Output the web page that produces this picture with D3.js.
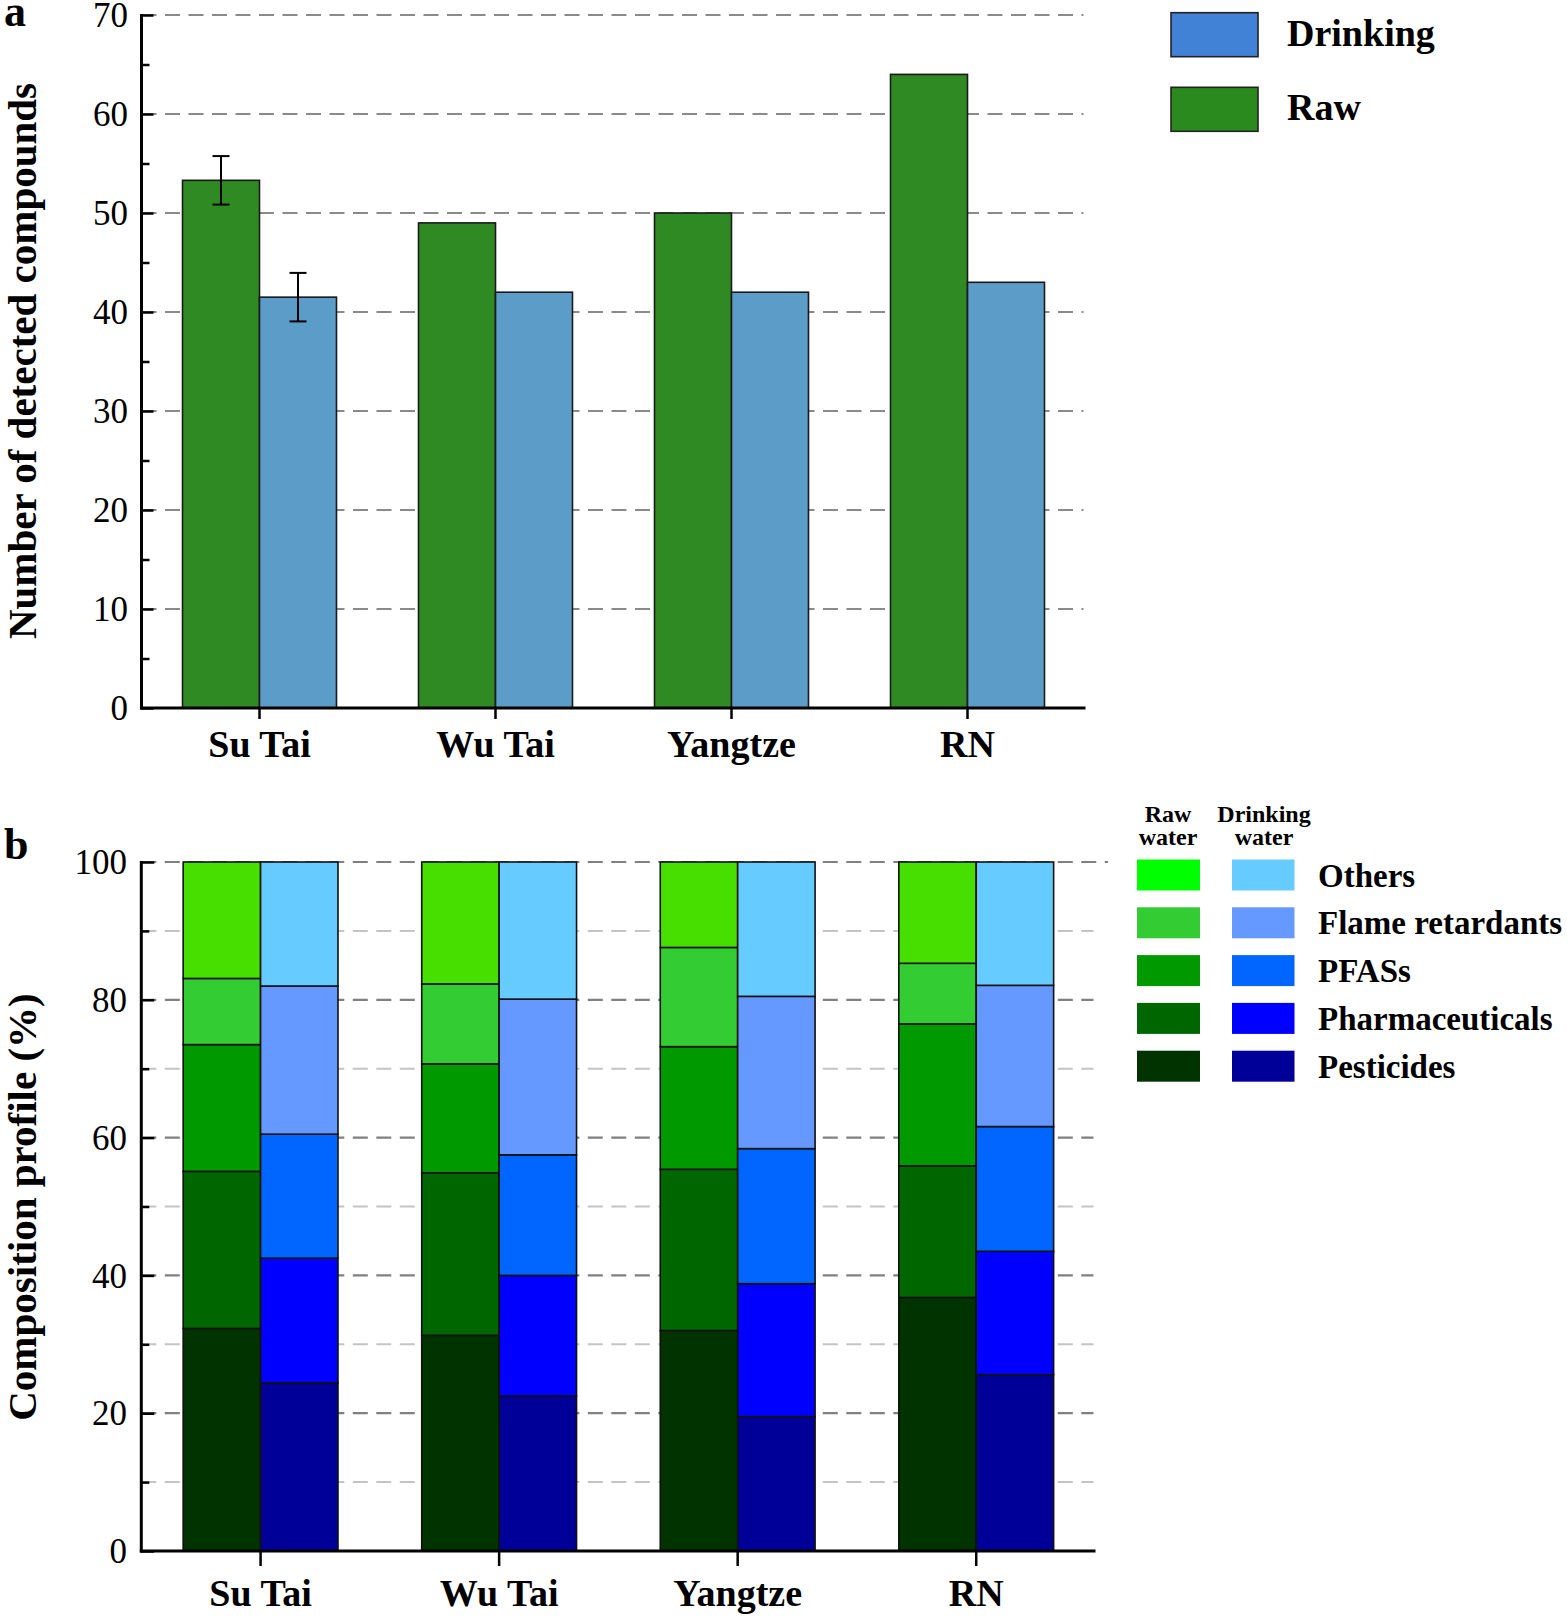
<!DOCTYPE html>
<html>
<head>
<meta charset="utf-8">
<script src="https://cdn.jsdelivr.net/npm/d3@7"></script>
<style>
  html, body { margin: 0; padding: 0; background: #fff; }
  svg { display: block; font-family: "Liberation Serif", "Times New Roman", serif; }
</style>
</head>
<body>
<svg id="chart" width="1567" height="1618"></svg>
<script>
// ---------- DATA ----------
const categories = ["Su Tai", "Wu Tai", "Yangtze", "RN"];

// Panel a: number of detected compounds
const rawCounts = [53.3, 49, 50, 64];
const drinkingCounts = [41.5, 42, 42, 43];
const rawErrors = [2.45, 0, 0, 0];
const drinkingErrors = [2.45, 0, 0, 0];
const countTicks = [0, 10, 20, 30, 40, 50, 60, 70];

// Panel b: composition profile (%), bottom to top
const compoundClasses = ["Pesticides", "Pharmaceuticals", "PFASs", "Flame retardants", "Others"];
const rawProfile = [
  [32.3, 22.8, 18.4, 9.6, 16.9],
  [31.3, 23.6, 15.8, 11.6, 17.7],
  [32.0, 23.4, 17.8, 14.4, 12.4],
  [36.8, 19.1, 20.6, 8.8, 14.7]
];
const drinkingProfile = [
  [24.4, 18.1, 18.0, 21.5, 18.0],
  [22.5, 17.5, 17.5, 22.6, 19.9],
  [19.5, 19.3, 19.6, 22.1, 19.5],
  [25.6, 17.9, 18.1, 20.5, 17.9]
];
const profileTicks = [0, 20, 40, 60, 80, 100];

// ---------- STYLE ----------
const rawColorA = "#2F8A23", drinkColorA = "#5B9CC8";
const legendDrinkA = "#4282D6", legendRawA = "#2A8A1E";
const rawColors = ["#003300", "#006600", "#009900", "#33CC33", "#47DF00"];
const rawLegendColors = ["#003300", "#006600", "#009900", "#33CC33", "#00FF00"];
const drinkColors = ["#000099", "#0000FF", "#0066FF", "#6699FF", "#66CCFF"];

const svg = d3.select("#chart");

// ================= PANEL A =================
const ax0 = 141.5, ax1 = 1085.5, ayTop = 15, ayBot = 708;
const xA = d3.scaleBand().domain(categories).range([ax0, ax1]).paddingInner(0.3475).paddingOuter(0.3475 / 2);
const subA = d3.scaleBand().domain(["Raw", "Drinking"]).range([0, xA.bandwidth()]);
const yA = d3.scaleLinear().domain([0, 70]).range([ayBot, ayTop]);

const gA = svg.append("g");
// gridlines
gA.append("g").selectAll("line").data(countTicks.filter(d => d > 0)).join("line")
  .attr("x1", ax0).attr("x2", ax1 - 2)
  .attr("y1", d => yA(d)).attr("y2", d => yA(d))
  .attr("stroke", "#8a8a8a").attr("stroke-width", 2.2).attr("stroke-dasharray", "15,8.5");

const rowsA = categories.map((c, i) => ({cat: c, i}));
// bars
const barsA = gA.append("g");
barsA.selectAll("rect.raw").data(rowsA).join("rect").attr("class", "raw")
  .attr("x", d => xA(d.cat) + subA("Raw")).attr("width", subA.bandwidth())
  .attr("y", d => yA(rawCounts[d.i])).attr("height", d => yA(0) - yA(rawCounts[d.i]))
  .attr("fill", rawColorA).attr("stroke", "#1a1a1a").attr("stroke-width", 1.6);
barsA.selectAll("rect.drk").data(rowsA).join("rect").attr("class", "drk")
  .attr("x", d => xA(d.cat) + subA("Drinking")).attr("width", subA.bandwidth())
  .attr("y", d => yA(drinkingCounts[d.i])).attr("height", d => yA(0) - yA(drinkingCounts[d.i]))
  .attr("fill", drinkColorA).attr("stroke", "#1a1a1a").attr("stroke-width", 1.6);

// error bars
function errBar(g, cx, v, e) {
  if (!e) return;
  const cap = 8.5;
  g.append("line").attr("x1", cx).attr("x2", cx).attr("y1", yA(v + e)).attr("y2", yA(v - e));
  g.append("line").attr("x1", cx - cap).attr("x2", cx + cap).attr("y1", yA(v + e)).attr("y2", yA(v + e));
  g.append("line").attr("x1", cx - cap).attr("x2", cx + cap).attr("y1", yA(v - e)).attr("y2", yA(v - e));
}
const errG = gA.append("g").attr("stroke", "#000").attr("stroke-width", 2);
rowsA.forEach(d => {
  errBar(errG, xA(d.cat) + subA("Raw") + subA.bandwidth() / 2, rawCounts[d.i], rawErrors[d.i]);
  errBar(errG, xA(d.cat) + subA("Drinking") + subA.bandwidth() / 2, drinkingCounts[d.i], drinkingErrors[d.i]);
});

// y axis (ticks inward)
const yAxisA = gA.append("g").attr("transform", `translate(${ax0},0)`)
  .call(d3.axisRight(yA).tickValues(d3.range(0, 71, 5)).tickSize(0).tickFormat(""));
yAxisA.select(".domain").remove();
yAxisA.selectAll(".tick line").attr("x2", d => d % 10 === 0 ? 12 : 8).attr("stroke", "#000").attr("stroke-width", 2.5);
gA.append("line").attr("x1", ax0).attr("x2", ax0).attr("y1", ayTop - 1).attr("y2", ayBot + 1.5).attr("stroke", "#000").attr("stroke-width", 3);
gA.append("g").selectAll("text").data(countTicks).join("text")
  .attr("x", 128).attr("y", d => yA(d)).attr("dy", "0.35em").attr("text-anchor", "end")
  .attr("font-size", 35).attr("fill", "#000").text(d => d);

// x axis
const xAxisA = gA.append("g").attr("transform", `translate(0,${ayBot})`)
  .call(d3.axisBottom(xA).tickSize(11).tickFormat(""));
xAxisA.select(".domain").remove();
xAxisA.selectAll(".tick line").attr("stroke", "#000").attr("stroke-width", 2.5);
gA.append("line").attr("x1", ax0 - 1.5).attr("x2", ax1).attr("y1", ayBot).attr("y2", ayBot).attr("stroke", "#000").attr("stroke-width", 3);
gA.append("g").selectAll("text").data(categories).join("text")
  .attr("x", d => xA(d) + xA.bandwidth() / 2).attr("y", 757).attr("text-anchor", "middle")
  .attr("font-size", 38).attr("font-weight", "bold").text(d => d);

// y title
svg.append("text").attr("transform", "translate(36,361) rotate(-90)").attr("text-anchor", "middle")
  .attr("font-size", 41).attr("font-weight", "bold").text("Number of detected compounds");
svg.append("text").attr("x", 4).attr("y", 26).attr("font-size", 44).attr("font-weight", "bold").text("a");

// legend a
const legA = [{label: "Drinking", color: legendDrinkA, y: 12.7}, {label: "Raw", color: legendRawA, y: 87.3}];
const lgA = svg.append("g");
lgA.selectAll("rect").data(legA).join("rect")
  .attr("x", 1171).attr("y", d => d.y).attr("width", 87).attr("height", 44)
  .attr("fill", d => d.color).attr("stroke", "#222").attr("stroke-width", 1.6);
lgA.selectAll("text").data(legA).join("text")
  .attr("x", 1287).attr("y", d => d.y + 33).attr("font-size", 38).attr("font-weight", "bold").text(d => d.label);

// ================= PANEL B =================
const bx0 = 141.3, bx1 = 1095.5, byTop = 862, byBot = 1551;
const xB = d3.scaleBand().domain(categories).range([bx0, bx1]).paddingInner(0.351).paddingOuter(0.351 / 2);
const subB = d3.scaleBand().domain(["Raw", "Drinking"]).range([0, xB.bandwidth()]);
const yB = d3.scaleLinear().domain([0, 100]).range([byBot, byTop]);

const gB = svg.append("g");
// gridlines: minor (light) and major (dark)
gB.append("g").selectAll("line").data(d3.range(10, 100, 20)).join("line")
  .attr("x1", bx0).attr("x2", bx1 - 2).attr("y1", d => yB(d)).attr("y2", d => yB(d))
  .attr("stroke", "#c4c4c4").attr("stroke-width", 2).attr("stroke-dasharray", "15,8.5");
gB.append("g").selectAll("line").data([20, 40, 60, 80, 100]).join("line")
  .attr("x1", bx0).attr("x2", d => d === 100 ? 1108 : bx1 - 2).attr("y1", d => yB(d)).attr("y2", d => yB(d))
  .attr("stroke", "#808080").attr("stroke-width", 2.2).attr("stroke-dasharray", "15,8.5");

const stackGen = d3.stack().keys(d3.range(compoundClasses.length)).value((row, k) => row[k]);
const rawStack = stackGen(rawProfile);
const drinkStack = stackGen(drinkingProfile);

function drawStack(stack, colors, sub) {
  const g = gB.append("g");
  stack.forEach((layer, k) => {
    g.append("g").selectAll("rect").data(layer).join("rect")
      .attr("x", (d, i) => xB(categories[i]) + subB(sub)).attr("width", subB.bandwidth())
      .attr("y", d => yB(d[1])).attr("height", d => yB(d[0]) - yB(d[1]))
      .attr("fill", colors[k]).attr("stroke", "#111").attr("stroke-width", 1.6);
  });
}
drawStack(rawStack, rawColors, "Raw");
drawStack(drinkStack, drinkColors, "Drinking");

// y axis
const yAxisB = gB.append("g").attr("transform", `translate(${bx0},0)`)
  .call(d3.axisRight(yB).tickValues(d3.range(0, 101, 10)).tickSize(0).tickFormat(""));
yAxisB.select(".domain").remove();
yAxisB.selectAll(".tick line").attr("x2", d => d % 20 === 0 ? 13 : 8).attr("stroke", "#000").attr("stroke-width", 2.5);
gB.append("line").attr("x1", bx0).attr("x2", bx0).attr("y1", byTop - 1).attr("y2", byBot + 1.5).attr("stroke", "#000").attr("stroke-width", 3);
gB.append("g").selectAll("text").data(profileTicks).join("text")
  .attr("x", 127).attr("y", d => yB(d)).attr("dy", "0.35em").attr("text-anchor", "end")
  .attr("font-size", 35).attr("fill", "#000").text(d => d);

// x axis
const xAxisB = gB.append("g").attr("transform", `translate(0,${byBot})`)
  .call(d3.axisBottom(xB).tickSize(15).tickFormat(""));
xAxisB.select(".domain").remove();
xAxisB.selectAll(".tick line").attr("stroke", "#000").attr("stroke-width", 2.5);
gB.append("line").attr("x1", bx0 - 1.5).attr("x2", bx1).attr("y1", byBot).attr("y2", byBot).attr("stroke", "#000").attr("stroke-width", 3);
gB.append("g").selectAll("text").data(categories).join("text")
  .attr("x", d => xB(d) + xB.bandwidth() / 2).attr("y", 1606).attr("text-anchor", "middle")
  .attr("font-size", 38).attr("font-weight", "bold").text(d => d);

svg.append("text").attr("transform", "translate(36,1207) rotate(-90)").attr("text-anchor", "middle")
  .attr("font-size", 41).attr("font-weight", "bold").text("Composition profile (%)");
svg.append("text").attr("x", 4).attr("y", 859).attr("font-size", 44).attr("font-weight", "bold").text("b");

// legend b
const lgB = svg.append("g").attr("font-weight", "bold");
[["Raw", 1168, 822], ["water", 1168, 845], ["Drinking", 1264, 822], ["water", 1264, 845]].forEach(t => {
  lgB.append("text").attr("x", t[1]).attr("y", t[2]).attr("text-anchor", "middle").attr("font-size", 24).text(t[0]);
});
const legOrder = d3.range(compoundClasses.length).reverse(); // Others at top
legOrder.forEach((k, row) => {
  const y = 859.5 + row * 47.8;
  lgB.append("rect").attr("x", 1137).attr("y", y).attr("width", 63).attr("height", 31).attr("fill", rawLegendColors[k]);
  lgB.append("rect").attr("x", 1232).attr("y", y).attr("width", 62.5).attr("height", 31).attr("fill", drinkColors[k]);
  lgB.append("text").attr("x", 1318).attr("y", y + 27).attr("font-size", 33).text(compoundClasses[k]);
});
</script>
</body>
</html>
